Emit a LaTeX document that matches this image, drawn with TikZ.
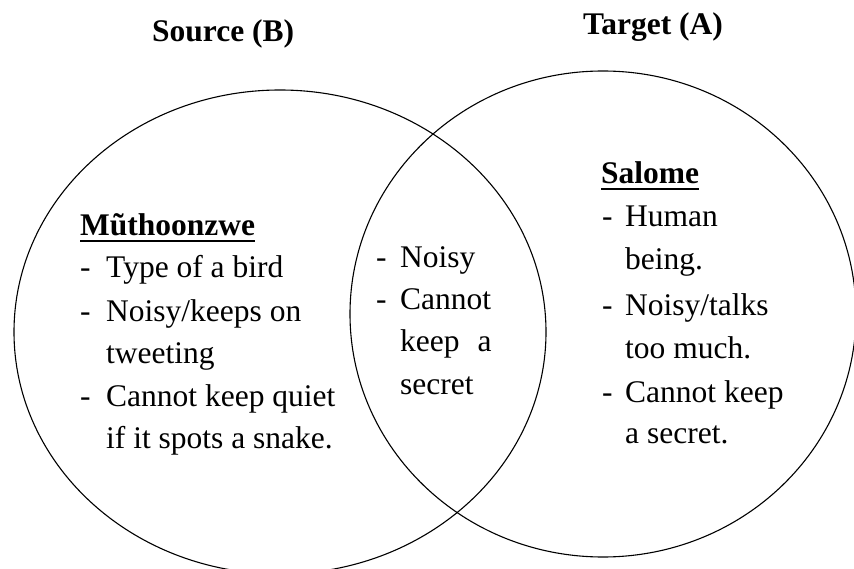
\documentclass[tikz,border=0pt]{standalone}
\usepackage{fontspec}
\setmainfont{LiberationSerif}[
  Extension=.ttf,
  UprightFont=*-Regular,
  BoldFont=*-Bold,
  ItalicFont=*-Italic,
  BoldItalicFont=*-BoldItalic]
\usetikzlibrary{shapes.geometric}

% text sizes (1pt = 1 unit of the drawing)
\newcommand\bodysize{\fontsize{31.5}{42.5}\selectfont}
% bold heading with a thick rule underneath
\newcommand\ulhead[1]{\setbox0\hbox{\bfseries#1}\rlap{\rule[-6.5pt]{\wd0}{2.4pt}}\box0}
% bullet dash in a fixed-width box
\newcommand\dashitem[1]{\makebox[#1][l]{-}}

\tikzset{
  set/.style={draw, ellipse, line width=1.1pt, inner sep=0pt},
  title/.style={anchor=base west, inner sep=0pt, font=\bodysize\bfseries},
  line/.style={anchor=base west, inner sep=0pt, font=\bodysize},
}

\begin{document}
\begin{tikzpicture}[x=1pt, y=-1pt]
\useasboundingbox (0,0) rectangle (854,569);

% the two overlapping sets
\node[set, minimum width=532pt, minimum height=484pt] (source) at (280,332) {};
\node[set, minimum width=506pt, minimum height=486pt] (target) at (603,314) {};

% titles
\node[title] (tsrc) at (152,42) {Source (B)};
\node[title] (ttgt) at (583,35) {Target (A)};

% source: the bird
\node[line] (s0) at (80,236) {\ulhead{Mũthoonzwe}};
\node[line] (s1) at (80,278) {\dashitem{26pt}Type of a bird};
\node[line] (s2) at (80,321) {\dashitem{26pt}Noisy/keeps on};
\node[line] (s3) at (106,363) {tweeting};
\node[line] (s4) at (80,406) {\dashitem{26pt}Cannot keep quiet};
\node[line] (s5) at (106,448) {if it spots a snake.};

% shared traits
\node[line] (m1) at (376,268) {\dashitem{24pt}Noisy};
\node[line] (m2) at (376,310) {\dashitem{24pt}Cannot};
\node[line] (m3) at (400,352) {keep\hspace{10pt} a};
\node[line] (m4) at (400,394) {secret};

% target: the person
\node[line] (t0) at (601,184) {\ulhead{Salome}};
\node[line] (t1) at (602,227) {\dashitem{23pt}Human};
\node[line] (t2) at (625,270) {being.};
\node[line] (t3) at (602,316) {\dashitem{23pt}Noisy/talks};
\node[line] (t4) at (625,358) {too much.};
\node[line] (t5) at (602,402) {\dashitem{23pt}Cannot keep};
\node[line] (t6) at (625,443) {a secret.};
\end{tikzpicture}
\end{document}
